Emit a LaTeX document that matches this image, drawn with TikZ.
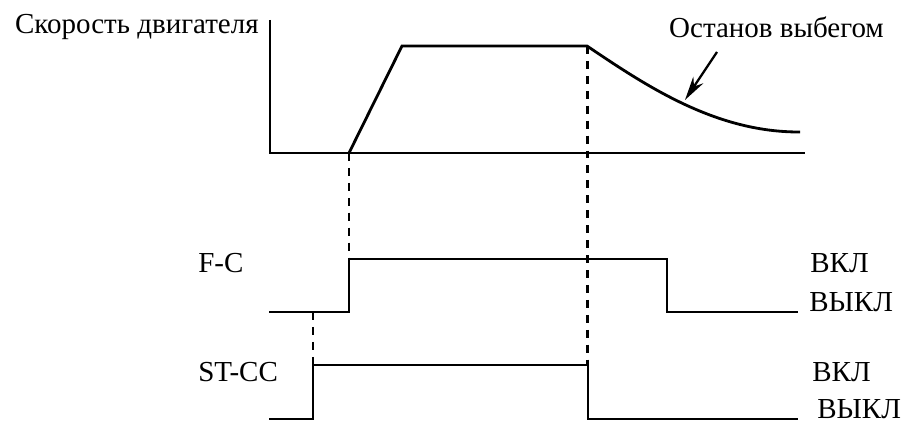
\documentclass[tikz,border=0pt]{standalone}
\usepackage{fontspec}
\setmainfont{Liberation Serif}
\usetikzlibrary{arrows.meta}

\begin{document}
\begin{tikzpicture}[wave/.style={line width=1.6pt},
  guide/.style={line width=1.6pt,dash pattern=on 4.5pt off 4pt},
  lbl/.style={font=\fontsize{16.5}{20}\selectfont,inner sep=0pt}]
\useasboundingbox (0,0) rectangle (18.06,8.5);

%Speed
\draw[line width=1.3pt] (5.4,8.1)--(5.4,5.44)--(16.1,5.44);
\draw[wave] (6.98,5.44)--(8.04,7.58)--(11.74,7.58) .. controls (12.9,6.8) and (14.3,5.85) .. (16.0,5.86);
\node[lbl,anchor=east] (speed) at (5.18,7.96) {Скорость двигателя};
\node[lbl] (coast) at (15.53,7.96) {Останов выбегом};
\coordinate (coasttip) at (13.70,6.50);
\draw[-{Stealth[length=0.48cm,width=0.24cm]},line width=1.3pt] (14.34,7.46)--(coasttip);

%Guides
\draw[guide] (6.98,5.44)--(6.98,3.34);
\draw[guide] (11.75,7.58)--(11.75,1.2);
\draw[guide] (6.26,2.26)--(6.26,1.2);

%F-C
\draw[wave] (5.38,2.26)--(6.98,2.26)--(6.98,3.32)--(13.34,3.32)--(13.34,2.26)--(15.96,2.26);
\node[lbl,anchor=west] (fc) at (3.96,3.24) {F-C};
\node[lbl,anchor=west] (fcon) at (16.2,3.24) {ВКЛ};
\node[lbl,anchor=west] (fcoff) at (16.18,2.46) {ВЫКЛ};

%ST-CC
\draw[wave] (5.38,0.12)--(6.26,0.12)--(6.26,1.2)--(11.76,1.2)--(11.76,0.12)--(15.96,0.12);
\node[lbl,anchor=west] (stcc) at (3.96,1.06) {ST-CC};
\node[lbl,anchor=west] (stccon) at (16.24,1.06) {ВКЛ};
\node[lbl,anchor=west] (stccoff) at (16.34,0.32) {ВЫКЛ};

\end{tikzpicture}
\end{document}
